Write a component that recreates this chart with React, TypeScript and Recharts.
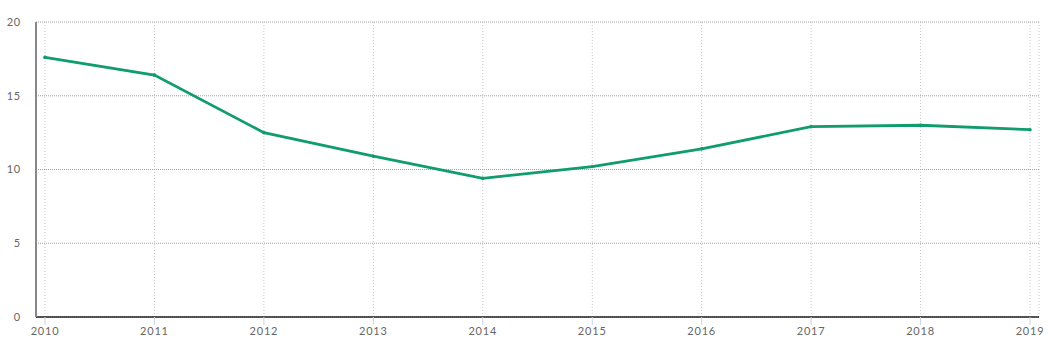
import { CartesianGrid, Line, LineChart, XAxis, YAxis } from 'recharts';

const YEARS = ['2010', '2011', '2012', '2013', '2014', '2015', '2016', '2017', '2018', '2019'];
const VALUES = [17.6, 16.4, 12.5, 10.9, 9.4, 10.2, 11.4, 12.9, 13.0, 12.7];
const Y_TICKS = [0, 5, 10, 15, 20];

const DATA = YEARS.map((year, i) => ({ year, value: VALUES[i] }));

const LINE_COLOR = '#109c6e';

const tickStyle = {
  fill: '#666',
  fontSize: 11,
  fontFamily: 'Lato, "Open Sans", sans-serif',
  letterSpacing: 0.8,
} as const;

export default function App() {
  return (
    <div style={{ position: 'absolute', left: 0, top: 0, width: 1053, height: 359, background: '#fff' }}>
      <LineChart width={1053} height={359} data={DATA} margin={{ top: 22, right: 14, left: 0, bottom: 12 }}>
        <CartesianGrid horizontal={false} strokeDasharray="1 2" stroke="#c8c8c8" />
        <CartesianGrid vertical={false} strokeDasharray="1 1" stroke="#a0a0a0" />
        <XAxis
          dataKey="year"
          padding={{ left: 9, right: 9 }}
          axisLine={{ stroke: '#222', strokeWidth: 1.5 }}
          tickLine={{ stroke: '#c9d3e6' }}
          tickSize={8}
          tickMargin={2}
          height={30}
          tick={tickStyle}
          interval={0}
        />
        <YAxis
          domain={[0, 20]}
          ticks={Y_TICKS}
          width={36}
          axisLine={{ stroke: '#888', strokeWidth: 2 }}
          tickLine={false}
          tickSize={0}
          tickMargin={15}
          tick={tickStyle}
        />
        <Line
          type="linear"
          dataKey="value"
          stroke={LINE_COLOR}
          strokeWidth={2.8}
          dot={{ r: 1.8, fill: LINE_COLOR, stroke: LINE_COLOR, strokeWidth: 0 }}
          isAnimationActive={false}
        />
      </LineChart>
    </div>
  );
}
